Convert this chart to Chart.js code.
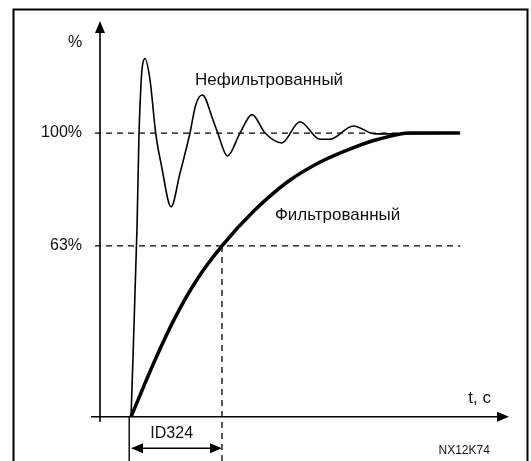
<!DOCTYPE html>
<html>
<head>
<meta charset="utf-8">
<script src="https://cdn.jsdelivr.net/npm/chart.js@4/dist/chart.umd.min.js"></script>
<style>
  html, body { margin: 0; padding: 0; background: #fff; }
  #chart { display: block; }
</style>
</head>
<body>
<canvas id="chart" width="531" height="461"></canvas>
<script>
// time in arbitrary units, ID324 (filter time constant) = 10
const unfilteredT = [0, 0.66, 0.88, 1.10, 1.24, 1.54, 2.09, 2.71, 3.37, 4.40, 5.38, 6.48, 7.11, 7.84, 9.01, 9.53, 10.60, 11.98, 13.30, 14.73, 16.56, 18.57, 20.77, 21.87, 24.43, 26.81, 36.15];
const unfilteredV = [0, 66.9, 100, 117.5, 123.4, 126.3, 118.7, 100, 88.1, 74.0, 85.8, 100, 109.9, 113.4, 104.6, 100, 91.9, 100, 106.5, 100, 96.5, 104.0, 97.8, 97.8, 102.5, 99.7, 100];
const filteredT = [0, 2.64, 4.77, 7.22, 10, 13.5, 17.3, 20.8, 24.4, 27.2, 30.64, 36.15];
const filteredV = [0, 20.0, 34.5, 48.2, 60.2, 72.5, 83.0, 89.8, 94.8, 97.8, 100, 100];

const levelValues = [100, 60.2];
const levelLabels = ['100%', '63%'];
const levelEnd = 36.2;
const timeConstant = 10;
const timeConstantLabel = 'ID324';
const seriesLabels = ['Нефильтрованный', 'Фильтрованный'];
const yAxisTitle = '%';
const xAxisTitle = 't, c';
const figureCode = 'NX12K74';

const yAxisAt = -3.41;

const toPoints = (ts, vs) => ts.map((t, i) => ({x: t, y: vs[i]}));

const FONT = "'Liberation Sans', Arial, sans-serif";

const arrowHead = (ctx, x, y, dx, dy) => {
  // filled triangle, tip at (x, y), pointing along (dx, dy)
  const len = 12, half = 5;
  const bx = x - dx * len, by = y - dy * len;
  ctx.beginPath();
  ctx.moveTo(x, y);
  ctx.lineTo(bx - dy * half, by + dx * half);
  ctx.lineTo(bx + dy * half, by - dx * half);
  ctx.closePath();
  ctx.fill();
};

const schematic = {
  id: 'schematic',
  beforeDatasetsDraw(chart) {
    const {ctx, chartArea: area, scales: {x, y}} = chart;
    const px = v => x.getPixelForValue(v);
    const py = v => y.getPixelForValue(v);
    ctx.save();
    ctx.strokeStyle = '#000';
    ctx.fillStyle = '#000';

    // frame
    ctx.lineWidth = 2;
    ctx.beginPath();
    ctx.moveTo(13.5, 461);
    ctx.lineTo(13.5, 9.5);
    ctx.lineTo(527.5, 9.5);
    ctx.lineTo(527.5, 461);
    ctx.stroke();

    // dashed reference levels
    ctx.lineWidth = 1.3;
    ctx.setLineDash([6, 5]);
    levelValues.forEach(v => {
      ctx.beginPath();
      ctx.moveTo(px(yAxisAt) - 5, py(v));
      ctx.lineTo(px(levelEnd), py(v));
      ctx.stroke();
    });
    // time constant drop line
    ctx.beginPath();
    ctx.moveTo(px(timeConstant), py(levelValues[1]));
    ctx.lineTo(px(timeConstant), chart.height);
    ctx.stroke();
    ctx.setLineDash([]);

    // axes
    ctx.lineWidth = 1.6;
    const ax = px(yAxisAt), ay = py(0);
    ctx.beginPath();
    ctx.moveTo(ax, py(-1.8));
    ctx.lineTo(ax, area.top + 8);
    ctx.moveTo(area.left, ay);
    ctx.lineTo(area.right - 8, ay);
    ctx.stroke();
    arrowHead(ctx, ax, area.top, 0, -1);
    arrowHead(ctx, area.right, ay, 1, 0);

    // start extension line
    ctx.lineWidth = 1.4;
    ctx.beginPath();
    ctx.moveTo(px(-0.2), ay);
    ctx.lineTo(px(-0.2), chart.height);
    ctx.stroke();

    // dimension arrow for time constant
    const dy = py(-11.1);
    ctx.beginPath();
    ctx.moveTo(px(0) + 8, dy);
    ctx.lineTo(px(timeConstant) - 8, dy);
    ctx.stroke();
    arrowHead(ctx, px(0), dy, -1, 0);
    arrowHead(ctx, px(timeConstant), dy, 1, 0);
    ctx.restore();
  },
  afterDatasetsDraw(chart) {
    const {ctx, scales: {x, y}} = chart;
    const px = v => x.getPixelForValue(v);
    const py = v => y.getPixelForValue(v);
    ctx.save();
    ctx.fillStyle = '#111';
    ctx.textBaseline = 'middle';
    ctx.font = '16px ' + FONT;

    ctx.textAlign = 'center';
    ctx.fillText(yAxisTitle, px(-6.15), py(131.8));
    ctx.textAlign = 'right';
    levelValues.forEach((v, i) => ctx.fillText(levelLabels[i], px(yAxisAt) - 18, py(v)));

    ctx.textAlign = 'center';
    ctx.fillText(timeConstantLabel, px(4.47), py(-5.85));

    ctx.textAlign = 'left';
    ctx.font = '17px ' + FONT;
    ctx.fillText(seriesLabels[0], px(7.03), py(118.6));
    ctx.fillText(seriesLabels[1], px(15.82), py(71.1));
    ctx.fillText(xAxisTitle, px(37.07), py(6.5));

    ctx.font = '12px ' + FONT;
    ctx.fillText(figureCode, px(33.8), py(-11.85));
    ctx.restore();
  }
};

new Chart(document.getElementById('chart'), {
  type: 'line',
  data: {
    datasets: [
      {
        label: seriesLabels[0],
        data: toPoints(unfilteredT, unfilteredV),
        borderColor: '#000',
        borderWidth: 1.6,
        cubicInterpolationMode: 'monotone',
        pointRadius: 0,
        fill: false,
      },
      {
        label: seriesLabels[1],
        data: toPoints(filteredT, filteredV),
        borderColor: '#000',
        borderWidth: 3.5,
        cubicInterpolationMode: 'monotone',
        pointRadius: 0,
        fill: false,
      },
    ]
  },
  options: {
    responsive: false,
    animation: false,
    layout: {padding: {left: 91, right: 22, top: 21, bottom: 39}},
    scales: {
      x: {type: 'linear', display: false, min: -4.4, max: 41.55},
      y: {type: 'linear', display: false, min: -1.87, max: 139.5},
    },
    plugins: {
      legend: {display: false},
      tooltip: {enabled: false},
    }
  },
  plugins: [schematic],
});
</script>
</body>
</html>
